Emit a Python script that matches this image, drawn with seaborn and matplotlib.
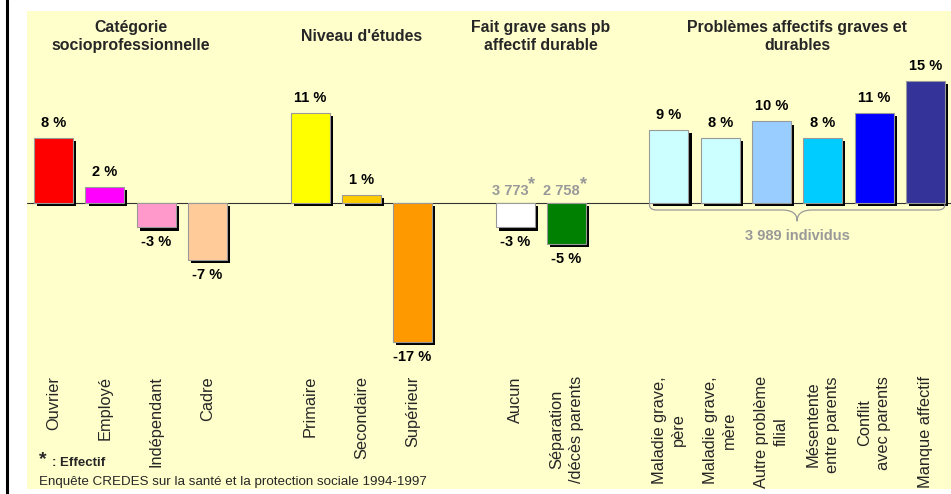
"""
Bar chart: écart à la moyenne par catégorie (Enquête CREDES 1994-1997)
"""

import numpy as np
import pandas as pd
import matplotlib.pyplot as plt
import seaborn as sns
from matplotlib import patheffects
from matplotlib.lines import Line2D

# Data
csp_labels = ["Ouvrier", "Employé", "Indépendant", "Cadre"]
csp_values = [8, 2, -3, -7]
csp_colors = ["#FF0000", "#FF00FF", "#FF99CC", "#FFCC99"]

etudes_labels = ["Primaire", "Secondaire", "Supérieur"]
etudes_values = [11, 1, -17]
etudes_colors = ["#FFFF00", "#FFCC00", "#FF9900"]

fait_labels = ["Aucun", "Séparation\n/décès parents"]
fait_values = [-3, -5]
fait_colors = ["#FFFFFF", "#008000"]
fait_effectifs = ["3 773", "2 758"]

affectif_labels = ["Maladie grave,\npère", "Maladie grave,\nmère", "Autre problème\nfilial",
                   "Mésentente\nentre parents", "Conflit\navec parents", "Manque affectif"]
affectif_values = [9, 8, 10, 8, 11, 15]
affectif_colors = ["#CCFFFF", "#CCFFFF", "#99CCFF", "#00CCFF", "#0000FF", "#333399"]
affectif_effectif = "3 989 individus"

group_titles = ["Catégorie\nsocioprofessionnelle", "Niveau d'études",
                "Fait grave sans pb\naffectif durable", "Problèmes affectifs graves et\ndurables"]

# Build table
groups = [csp_labels, etudes_labels, fait_labels, affectif_labels]
labels = csp_labels + etudes_labels + fait_labels + affectif_labels
values = csp_values + etudes_values + fait_values + affectif_values
colors = csp_colors + etudes_colors + fait_colors + affectif_colors
df = pd.DataFrame({"label": labels, "value": values})
palette = dict(zip(labels, colors))

# empty slots between groups
order = []
for i, g in enumerate(groups):
    if i > 0:
        order.append(" " * i)
    order += g
pos = {lab: i for i, lab in enumerate(order)}

sns.set_style("white")
plt.rcParams['font.family'] = ['Liberation Sans', 'DejaVu Sans']

W, H = 951, 494
fig = plt.figure(figsize=(W / 100, H / 100), dpi=100)
# axes = yellow panel (pixel box)
left, right, top, bottom = 27, 951, 11, 489
ax = fig.add_axes([left / W, 1 - bottom / H, (right - left) / W, (bottom - top) / H])
ax.set_facecolor("#FFFFCC")

sns.barplot(data=df, x="label", y="value", hue="label", order=order, hue_order=labels,
            palette=palette, saturation=1, legend=False, width=0.76, dodge=False,
            edgecolor="#999999", linewidth=0.8, ax=ax, zorder=3)

shadow = [patheffects.SimplePatchShadow(offset=(2.2, -2.2), shadow_rgbFace="black", alpha=1),
          patheffects.Normal()]
for p in ax.patches:
    p.set_path_effects(shadow)

ax.axhline(0, color="#333333", lw=0.8, zorder=2)

px = 8.15  # pixels per percent
ax.set_xlim(-0.52, 17.5)
ax.set_ylim(-(bottom - 203) / px, (203 - top) / px)
ax.set_xticks([])
ax.set_yticks([])
ax.set_xlabel("")
ax.set_ylabel("")
for s in ax.spines.values():
    s.set_visible(False)

# value labels
for lab, v in zip(labels, values):
    off = 10.8 if v > 0 else -10.8
    ax.annotate(f"{v} %", (pos[lab], v), xytext=(0, off), textcoords="offset points",
                ha="center", va="center", fontsize=10.5, fontweight="bold", color="black")

# category labels (rotated)
for lab in labels:
    ax.text(pos[lab], -(376 - 203) / px, lab, rotation=90, ha="center", va="top",
            multialignment="center", linespacing=1.35, fontsize=11.8)

# group titles
for g, t in zip(groups, group_titles):
    xc = np.mean([pos[l] for l in g])
    ax.text(xc, 0.946, t, transform=ax.get_xaxis_transform(), ha="center", va="center",
            fontsize=11.4, fontweight="bold", linespacing=1.25)

# effectifs (gray)
gray = "#999999"
for lab, eff in zip(fait_labels, fait_effectifs):
    ax.annotate(eff, (pos[lab], 0), xytext=(-3.6, 8.6), textcoords="offset points",
                ha="center", va="center", fontsize=10.5, fontweight="bold", color=gray)
    ax.annotate("*", (pos[lab], 0), xytext=(12, 13), textcoords="offset points",
                ha="center", va="center", fontsize=13, fontweight="bold", color=gray)

# brace under affectif group
def qbez(p0, p1, p2, n=20):
    t = np.linspace(0, 1, n)[:, None]
    p0, p1, p2 = map(np.asarray, (p0, p1, p2))
    return (1 - t) ** 2 * p0 + 2 * (1 - t) * t * p1 + t ** 2 * p2

x0 = pos[affectif_labels[0]] - 0.38
x1 = pos[affectif_labels[-1]] + 0.38
xm = (x0 + x1) / 2
ytop, ymid, ytip = -0.2, -(210 - 203) / px, -(221 - 203) / px
r, rm = 0.15, 0.3
brace = np.vstack([
    qbez((x0, ytop), (x0, ymid), (x0 + r, ymid)),
    qbez((xm - rm, ymid), (xm, ymid), (xm, ytip)),
    qbez((xm, ytip), (xm, ymid), (xm + rm, ymid)),
    qbez((x1 - r, ymid), (x1, ymid), (x1, ytop)),
])
ax.plot(brace[:, 0], brace[:, 1], color=gray, lw=0.9, zorder=4)
ax.text(xm, -(236 - 203) / px, affectif_effectif, ha="center", va="center",
        fontsize=10.5, fontweight="bold", color=gray)

# footnotes
fig.text(39 / W, 1 - 460 / H, "*", ha="left", va="center", fontsize=14, fontweight="bold")
fig.text(52 / W, 1 - 463 / H, ": Effectif", ha="left", va="center", fontsize=9.5, fontweight="bold")
fig.text(39 / W, 1 - 482 / H, "Enquête CREDES sur la santé et la protection sociale 1994-1997",
         ha="left", va="center", fontsize=9.6)

# left border line
fig.add_artist(Line2D([6.5 / W, 6.5 / W], [0, 1], color="black", lw=2.2, transform=fig.transFigure))

fig.savefig("out.png", dpi=100, facecolor="white")
